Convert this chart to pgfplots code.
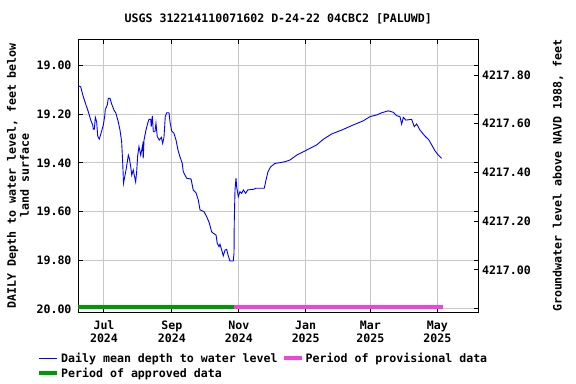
\documentclass[border=0pt]{standalone}
\usepackage{fontspec}
\setmainfont{DejaVu Sans Mono}
\usepackage{pgfplots}
\pgfplotsset{compat=1.18}
\definecolor{appr}{RGB}{0,153,0}
\definecolor{prov}{RGB}{238,68,221}
\definecolor{gridc}{RGB}{200,200,200}
\newcommand{\uf}{\fontsize{11.6bp}{13bp}\selectfont\bfseries}
\begin{document}
\begin{tikzpicture}
\path[use as bounding box] (0,0) rectangle (576bp,384bp);
\begin{axis}[
  at={(78bp,71.5bp)}, anchor=south west, scale only axis,
  width=400.5bp, height=273.5bp,
  xmin=-23.71, xmax=341.6, ymin=18.891, ymax=20.0144, y dir=reverse,
  xtick={0,62,123,184,243,304},
  xticklabels={Jul\\2024,Sep\\2024,Nov\\2024,Jan\\2025,Mar\\2025,May\\2025},
  xticklabel style={align=center, font=\uf, yshift=-5bp},
  ytick={19,19.2,19.4,19.6,19.8,20},
  yticklabels={19.00,19.20,19.40,19.60,19.80,20.00},
  yticklabel style={font=\uf, xshift=-3bp},
  grid=major, major grid style={gridc, line width=1bp},
  axis line style={line width=1bp},
  tick style={black, line width=1bp}, major tick length=5bp,
  title={USGS 312214110071602 D-24-22 04CBC2 [PALUWD]},
  title style={font=\uf, at={(axis description cs:0.5,1.05)}, anchor=center},
  ylabel={DAILY Depth to water level, feet below\\land surface},
  ylabel style={font=\uf, align=center, at={(axis description cs:-0.1498,0.5)}, anchor=center},
  legend columns=2,
  legend style={at={(axis description cs:-0.1024,-0.1400)}, anchor=north west,
    draw=none, fill=none, font=\uf, inner sep=0pt, cells={anchor=west},
    /tikz/every even column/.append style={column sep=2bp}},
  legend image code/.code={\draw[#1] (0bp,0bp) -- (18bp,0bp);},
]
\addplot[appr, line width=4bp, forget plot] coordinates {(-23.71,19.99) (118.6,19.99)};
\addplot[prov, line width=4bp, forget plot] coordinates {(118.6,19.99) (309,19.99)};
\addplot[blue, line width=0.9bp, forget plot] coordinates {
(-23.7,19.083) (-21.3,19.087) (-18.9,19.128) (-16.4,19.162) (-14.3,19.190)
(-12.1,19.224) (-10.3,19.244) (-9.8,19.261) (-8.8,19.261) (-7.9,19.213)
(-6.7,19.231) (-5.7,19.290) (-4.3,19.302) (-2.7,19.278) (-0.6,19.244)
(0.6,19.210) (1.2,19.180) (3.0,19.162) (3.9,19.135) (5.5,19.135)
(7.0,19.158) (9.1,19.183) (10.9,19.196) (13.0,19.231) (14.6,19.265)
(16.1,19.313) (17.1,19.402) (17.8,19.483) (20.1,19.429) (22.2,19.368)
(23.1,19.381) (24.4,19.416) (25.3,19.450) (26.7,19.429) (27.6,19.450)
(28.9,19.478) (29.8,19.436) (30.7,19.372) (31.9,19.333) (33.5,19.368)
(34.4,19.347) (35.3,19.326) (35.8,19.381) (36.5,19.306) (38.3,19.265)
(39.9,19.237) (41.0,19.221) (42.6,19.221) (43.1,19.251) (44.1,19.207)
(45.0,19.272) (46.5,19.272) (47.4,19.237) (48.6,19.292) (50.4,19.306)
(52.3,19.295) (53.5,19.320) (54.7,19.295) (55.9,19.210) (57.2,19.194)
(59.3,19.194) (60.2,19.231) (61.7,19.268) (63.8,19.278) (65.7,19.306)
(67.5,19.347) (69.3,19.375) (71.4,19.402) (72.3,19.436) (75.4,19.463)
(79.4,19.466) (81.4,19.511) (83.9,19.522) (86.0,19.552) (87.6,19.593)
(91.2,19.600) (93.7,19.621) (96.0,19.646) (98.2,19.683) (99.7,19.689)
(102.2,19.696) (103.3,19.730) (104.9,19.744) (105.8,19.734) (107.4,19.758)
(108.8,19.782) (110.4,19.758) (111.9,19.755) (113.4,19.782) (114.9,19.803)
(117.9,19.803) (118.6,19.771) (118.8,19.646) (119.5,19.511) (120.4,19.463)
(121.0,19.498) (122.5,19.539) (124.0,19.518) (125.6,19.525) (127.1,19.511)
(129.2,19.525) (131.1,19.511) (136.8,19.508) (138.6,19.504) (146.2,19.504)
(147.8,19.470) (149.6,19.436) (152.0,19.416) (156.0,19.402) (160.5,19.399)
(165.1,19.395) (169.6,19.388) (175.8,19.368) (184.9,19.347) (194.0,19.326)
(200.0,19.303) (207.7,19.281) (216.8,19.265) (227.4,19.244) (236.5,19.227)
(242.6,19.210) (248.7,19.203) (253.3,19.194) (259.3,19.186) (263.9,19.192)
(267.0,19.206) (270.0,19.210) (271.5,19.241) (273.0,19.213) (275.4,19.224)
(280.6,19.221) (283.0,19.251) (285.2,19.240) (288.2,19.265) (292.8,19.290)
(296.4,19.306) (298.9,19.326) (301.9,19.350) (304.9,19.368) (308.0,19.381)
};
\addlegendimage{blue, line width=0.9bp}
\addlegendentry{Daily mean depth to water level}
\addlegendimage{prov, line width=4bp}
\addlegendentry{Period of provisional data}
\addlegendimage{appr, line width=4bp}
\addlegendentry{Period of approved data}
\end{axis}
\begin{axis}[
  at={(78bp,71.5bp)}, anchor=south west, scale only axis,
  width=400.5bp, height=273.5bp,
  xmin=-23.71, xmax=341.6, ymin=4216.825, ymax=4217.948,
  axis y line*=right, axis x line=none,
  ytick={4217.0,4217.2,4217.4,4217.6,4217.8},
  yticklabels={4217.00,4217.20,4217.40,4217.60,4217.80},
  yticklabel style={font=\uf},
  axis line style={line width=1bp},
  tick style={black, line width=1bp}, major tick length=5bp,
  ylabel={Groundwater level above NAVD 1988, feet},
  ylabel style={font=\uf, at={(axis description cs:1.1985,0.5)}, anchor=center},
]
\addplot[draw=none] coordinates {(0,4217.0)};
\end{axis}
\end{tikzpicture}
\end{document}
